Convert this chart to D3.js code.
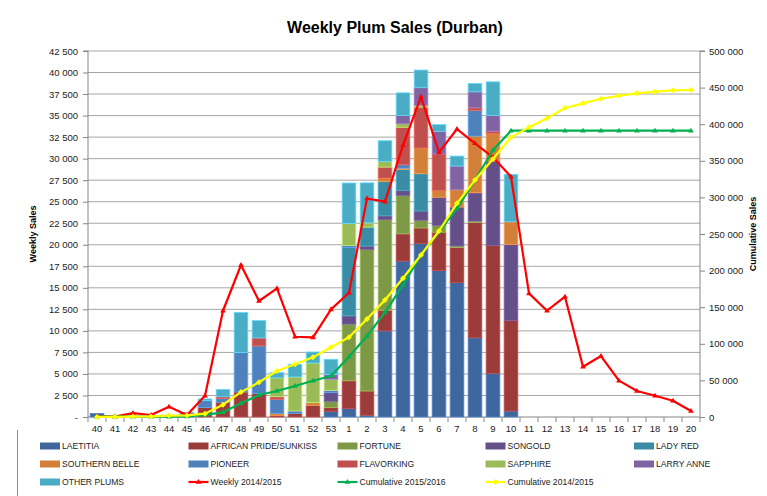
<!DOCTYPE html>
<html>
<head>
<meta charset="utf-8">
<script src="https://cdn.jsdelivr.net/npm/d3@7"></script>
<style>
  body { margin: 0; background: #fff; }
  svg { display: block; font-family: "Liberation Sans", Arial, sans-serif; }
</style>
</head>
<body>
<svg id="chart" width="767" height="496"></svg>
<script>
// ---- data ----
const weeks = ["40","41","42","43","44","45","46","47","48","49","50","51","52","53",
  "1","2","3","4","5","6","7","8","9","10","11","12","13","14","15","16","17","18","19","20"];

// bars only run week 40 .. week 10
const barWeeks = weeks.slice(0, 24);

const laetitia      = [400,0,0,0,0,200,0,0,0,0,0,0,0,660,1000,200,10000,18100,20130,17000,15600,9200,5070,700];
const africanPride  = [0,0,0,0,0,0,1100,1700,2900,2720,200,400,1360,430,3210,2820,2400,3170,1820,4460,4100,13400,14860,10520];
const fortune       = [0,0,0,0,0,0,0,0,0,0,0,0,0,730,6570,16440,10500,4450,890,770,150,150,0,0];
const songold       = [0,0,0,0,0,0,0,0,0,0,0,0,0,1010,970,390,460,580,1080,3290,4530,3290,9790,8820];
const ladyRed       = [0,0,0,0,0,0,0,0,0,0,0,0,0,0,7930,2200,3990,2440,4330,0,0,0,0,0];
const southernBelle = [0,0,0,0,0,0,0,0,0,0,200,0,310,0,0,0,390,150,2980,770,2010,6580,3170,2630];
const pioneer       = [0,0,0,0,0,300,800,450,4600,5530,1650,300,0,270,230,0,0,390,0,0,0,2980,0,0];
const flavorking    = [0,0,0,0,0,0,0,200,0,930,300,0,0,0,0,0,1280,4370,4760,4260,0,300,300,0];
const sapphire      = [0,0,0,0,0,0,0,0,0,0,2200,3950,4600,1280,2550,500,660,390,200,0,0,0,0,0];
const larryAnne     = [0,0,0,0,0,0,0,0,0,0,0,0,0,540,0,0,0,970,2050,2630,2750,1860,1820,0];
const otherPlums    = [0,0,0,0,0,0,200,850,4650,2020,600,1470,1280,1780,4710,4640,2400,2630,2050,770,1160,970,3910,5500];

const weekly1415 = [100,50,450,230,1200,230,2470,12340,17650,13470,14940,9320,9250,12500,
  14430,25370,25000,31560,37180,30730,33440,31780,30150,27900,14360,12340,13970,5840,7080,4220,3020,2470,1890,700];
const cum1516 = [400,400,400,400,400,900,3000,6400,18700,30000,35500,42300,49600,56000,
  82400,110600,143000,180300,221300,253100,285100,323700,364700,391100,391100,391100,391100,391100,391100,391100,391100,391100,391100,391100];
const cum1415 = [100,150,600,800,2000,2200,4600,16800,34000,47400,62800,72000,81500,95200,
  108900,133900,159800,189500,221300,254100,291900,323700,352400,382000,395700,408000,422100,428500,434800,438900,442200,444400,446300,446700];

const varieties = [
  { name: "LAETITIA", values: laetitia, color: "#3F679E" },
  { name: "AFRICAN PRIDE/SUNKISS", values: africanPride, color: "#9C3C3A" },
  { name: "FORTUNE", values: fortune, color: "#7E9946" },
  { name: "SONGOLD", values: songold, color: "#654F88" },
  { name: "LADY RED", values: ladyRed, color: "#3A8BA4" },
  { name: "SOUTHERN BELLE", values: southernBelle, color: "#D27F3A" },
  { name: "PIONEER", values: pioneer, color: "#4F81BD" },
  { name: "FLAVORKING", values: flavorking, color: "#C0504D" },
  { name: "SAPPHIRE", values: sapphire, color: "#9BBB59" },
  { name: "LARRY ANNE", values: larryAnne, color: "#8064A2" },
  { name: "OTHER PLUMS", values: otherPlums, color: "#4BACC6" }
];

const lines = [
  { name: "Weekly 2014/2015", values: weekly1415, color: "#FF0000", axis: "left", marker: "triangle" },
  { name: "Cumulative 2015/2016", values: cum1516, color: "#00B050", axis: "right", marker: "triangle" },
  { name: "Cumulative 2014/2015", values: cum1415, color: "#FFFF00", axis: "right", marker: "diamond" }
];

const leftTicks = d3.range(0, 42501, 2500);
const rightTicks = d3.range(0, 500001, 50000);

// ---- layout ----
const svg = d3.select("#chart");
const plot = { left: 88, right: 700, top: 51, bottom: 417 };

const x = d3.scaleBand()
  .domain(weeks)
  .range([plot.left, plot.right])
  .paddingInner(0.24)
  .paddingOuter(0.12);

const yL = d3.scaleLinear().domain([0, 42500]).range([plot.bottom, plot.top]);
const yR = d3.scaleLinear().domain([0, 500000]).range([plot.bottom, plot.top]);

const spaceFmt = d => d3.format(",")(d).replace(/,/g, " ");

// chart border fragment visible at bottom left
svg.append("line")
  .attr("x1", 17.5).attr("x2", 17.5)
  .attr("y1", 430).attr("y2", 496)
  .attr("stroke", "#8a8a8a");

// title
svg.append("text")
  .attr("x", 395).attr("y", 33)
  .attr("text-anchor", "middle")
  .style("font-size", "16px").style("font-weight", "bold")
  .text("Weekly Plum Sales (Durban)");

// gridlines
svg.append("g")
  .selectAll("line")
  .data(leftTicks.slice(1))
  .join("line")
  .attr("x1", plot.left).attr("x2", plot.right)
  .attr("y1", d => yL(d)).attr("y2", d => yL(d))
  .attr("stroke", "#A6A6A6").attr("stroke-width", 1);

// axes
const axL = svg.append("g")
  .attr("transform", `translate(${plot.left},0)`)
  .call(d3.axisLeft(yL).tickValues(leftTicks).tickSize(5).tickPadding(5)
    .tickFormat(d => d === 0 ? "-" : spaceFmt(d)));

const axR = svg.append("g")
  .attr("transform", `translate(${plot.right},0)`)
  .call(d3.axisRight(yR).tickValues(rightTicks).tickSize(5).tickPadding(4)
    .tickFormat(spaceFmt));

const axB = svg.append("g")
  .attr("transform", `translate(0,${plot.bottom})`)
  .call(d3.axisBottom(x).tickSize(0).tickPadding(8));

// x tick marks sit between categories
const step = x.step();
svg.append("g")
  .selectAll("line")
  .data(d3.range(weeks.length + 1))
  .join("line")
  .attr("x1", i => plot.left + i * step).attr("x2", i => plot.left + i * step)
  .attr("y1", plot.bottom).attr("y2", plot.bottom + 5)
  .attr("stroke", "#868686");

[axL, axR, axB].forEach(a => {
  a.select(".domain").attr("stroke", "#868686");
  a.selectAll(".tick line").attr("stroke", "#868686");
  a.selectAll(".tick text").style("font-size", "9.5px").attr("fill", "#222");
});
axL.select(".domain").attr("d", `M-5,${plot.top}H0V${plot.bottom}`);
axR.select(".domain").attr("d", `M5,${plot.top}H0V${plot.bottom}`);
axB.select(".domain").attr("d", `M${plot.left},0H${plot.right}`);

// axis titles
svg.append("text")
  .attr("transform", `translate(36,${(plot.top + plot.bottom) / 2}) rotate(-90)`)
  .attr("text-anchor", "middle")
  .style("font-size", "9px").style("font-weight", "bold")
  .text("Weekly Sales");

svg.append("text")
  .attr("transform", `translate(756,${(plot.top + plot.bottom) / 2}) rotate(-90)`)
  .attr("text-anchor", "middle")
  .style("font-size", "9px").style("font-weight", "bold")
  .text("Cumulative Sales");

// stacked bars
const rows = barWeeks.map((w, i) => {
  const r = { week: w };
  varieties.forEach(v => r[v.name] = v.values[i]);
  return r;
});
const stacked = d3.stack().keys(varieties.map(v => v.name))(rows);

svg.append("g")
  .selectAll("g")
  .data(stacked)
  .join("g")
  .attr("fill", (d, i) => varieties[i].color)
  .attr("stroke", (d, i) => d3.color(varieties[i].color).brighter(0.7))
  .attr("stroke-width", 0.8)
  .selectAll("rect")
  .data(d => d.filter(s => s[1] - s[0] > 0))
  .join("rect")
  .attr("x", d => x(d.data.week))
  .attr("width", x.bandwidth())
  .attr("y", d => yL(d[1]))
  .attr("height", d => yL(d[0]) - yL(d[1]));

// lines
const markerPath = (type, s) => type === "triangle"
  ? `M0,${-s}L${s * 0.95},${s * 0.6}L${-s * 0.95},${s * 0.6}Z`
  : `M0,${-s}L${s},0L0,${s}L${-s},0Z`;

lines.forEach(l => {
  const y = l.axis === "left" ? yL : yR;
  const cx = (d, i) => x(weeks[i]) + x.bandwidth() / 2;
  svg.append("path")
    .datum(l.values)
    .attr("fill", "none")
    .attr("stroke", l.color)
    .attr("stroke-width", 2.2)
    .attr("stroke-linejoin", "round")
    .attr("d", d3.line().x(cx).y(d => y(d)));
  svg.append("g")
    .selectAll("path")
    .data(l.values)
    .join("path")
    .attr("transform", (d, i) => `translate(${cx(d, i)},${y(d)})`)
    .attr("d", markerPath(l.marker, 3))
    .attr("fill", l.color);
});

// legend
const legendItems = varieties.map(v => ({ name: v.name, color: v.color, type: "bar" }))
  .concat(lines.map(l => ({ name: l.name, color: l.color, type: "line", marker: l.marker })));
const colX = [40, 188.5, 337.5, 485.5, 634];
const rowY = [446, 464, 482];

const lg = svg.append("g")
  .selectAll("g")
  .data(legendItems)
  .join("g")
  .attr("transform", (d, i) => `translate(${colX[i % 5]},${rowY[Math.floor(i / 5)]})`);

lg.filter(d => d.type === "bar")
  .append("rect")
  .attr("x", 0).attr("y", -3.5)
  .attr("width", 20).attr("height", 7)
  .attr("fill", d => d.color);

lg.filter(d => d.type === "line")
  .append("line")
  .attr("x1", 0).attr("x2", 20)
  .attr("stroke", d => d.color).attr("stroke-width", 2.2);

lg.filter(d => d.type === "line")
  .append("path")
  .attr("transform", "translate(10,0)")
  .attr("d", d => markerPath(d.marker, 3))
  .attr("fill", d => d.color);

lg.append("text")
  .attr("x", 22).attr("y", 3.3)
  .style("font-size", "8.6px")
  .attr("fill", "#222")
  .text(d => d.name);
</script>
</body>
</html>
